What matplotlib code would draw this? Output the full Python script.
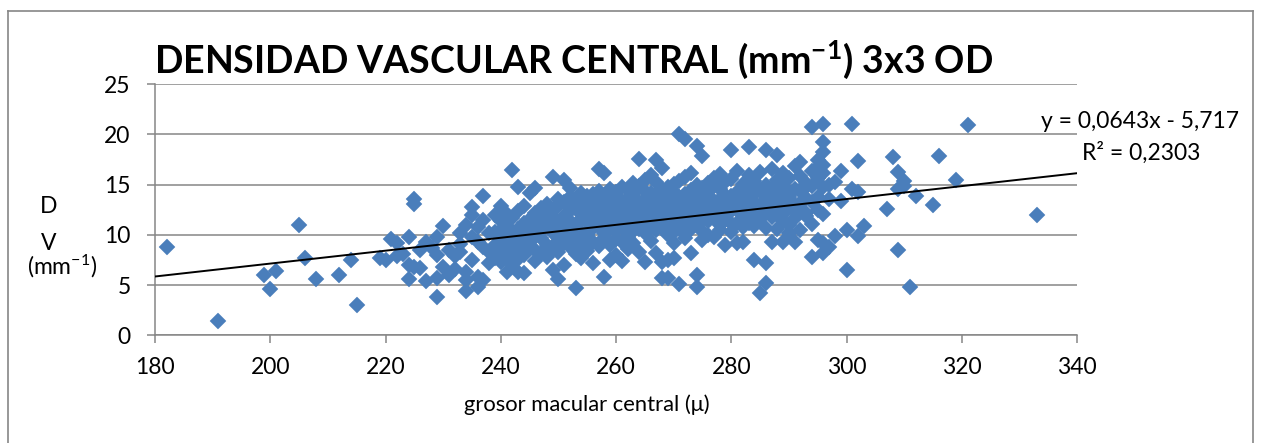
import matplotlib
matplotlib.use("Agg")
import matplotlib.pyplot as plt
from matplotlib.lines import Line2D

plt.rcParams['font.family'] = ['Lato', 'DejaVu Sans']
plt.rcParams['mathtext.fontset'] = 'custom'
plt.rcParams['mathtext.rm'] = 'Lato'
plt.rcParams['mathtext.bf'] = 'Lato:bold'
plt.rcParams['mathtext.it'] = 'Lato:italic'

# ---- data: grosor macular central (x, micras) vs densidad vascular (y, mm-1) ----
puntos_izq = [
    (182, 8.8), (191, 1.4), (199, 6.0), (200, 4.6), (201, 6.4), (205, 11.0),
    (206, 7.7), (208, 5.6), (212, 6.0), (214, 7.5), (215, 3.0), (219, 7.7),
    (220, 7.5), (221, 9.6), (222, 9.2), (222, 7.9), (223, 8.1), (224, 9.8),
    (224, 7.0), (224, 5.6), (225, 13.6), (225, 13.1), (225, 6.8), (226, 6.7),
    (226, 8.5), (227, 9.3), (227, 5.4), (228, 8.7), (229, 3.8), (229, 5.7),
    (229, 9.8), (229, 8.0), (230, 10.9), (230, 6.8), (231, 8.5), (231, 6.0),
    (232, 6.6), (232, 7.9), (233, 10.2), (233, 8.3), (233, 9.1), (234, 6.3),
    (234, 5.5), (234, 4.4), (234, 11.0), (235, 12.8), (235, 12.0), (235, 7.5),
    (235, 9.8), (236, 10.8), (236, 5.8), (236, 4.8), (236, 9.3), (237, 5.5),
    (237, 13.9), (237, 8.8), (237, 11.5), (238, 10.2), (238, 8.3), (238, 7.2),
    (239, 12.0), (239, 10.3), (239, 7.7), (239, 9.0),
]

puntos_centro = [
    (240, [9.2, 10.5, 8.1, 11.4, 7.3, 9.8, 12.9]),
    (241, [8.6, 10.9, 12.1, 7.9, 9.4, 6.3]),
    (242, [9.9, 11.7, 8.4, 10.3, 7.1, 16.5]),
    (243, [10.6, 9.1, 12.4, 8.8, 14.8, 7.6, 6.3]),
    (244, [11.2, 9.5, 10.1, 8.0, 6.2, 12.9]),
    (245, [10.8, 9.3, 11.6, 8.7, 14.2, 9.6]),
    (246, [12.2, 10.0, 8.5, 11.0, 14.7, 7.4]),
    (247, [9.7, 11.3, 12.7, 8.2, 10.4]),
    (248, [10.9, 9.0, 12.0, 11.5, 7.8, 13.1]),
    (249, [11.8, 10.2, 8.6, 12.5, 15.8, 6.5]),
    (250, [10.6, 12.9, 9.4, 11.1, 8.3, 13.6, 5.6]),
    (251, [11.9, 10.1, 13.3, 7.0, 9.2, 15.5]),
    (252, [12.4, 10.8, 9.6, 13.8, 11.4, 8.8, 14.7]),
    (253, [11.0, 12.7, 9.9, 13.2, 8.1, 4.7, 10.5]),
    (254, [12.1, 10.3, 13.6, 11.6, 9.1, 14.2, 7.7]),
    (255, [11.3, 12.8, 10.0, 13.9, 8.4, 12.2, 9.5]),
    (256, [12.6, 10.7, 14.1, 11.8, 9.3, 13.0, 7.2]),
    (257, [10.9, 12.3, 13.5, 16.6, 11.2, 8.9, 14.4]),
    (258, [12.9, 11.5, 10.2, 13.7, 9.7, 16.2, 5.8, 12.0]),
    (259, [11.7, 13.1, 10.6, 14.6, 9.0, 12.4, 7.5]),
    (260, [12.8, 10.4, 13.9, 11.3, 9.6, 14.3, 8.0, 12.1]),
    (261, [11.9, 13.4, 10.8, 12.6, 14.8, 9.3, 7.4]),
    (262, [13.0, 11.4, 12.2, 10.1, 14.5, 9.8, 8.6, 13.7]),
    (263, [12.5, 13.8, 11.1, 10.4, 14.1, 12.9, 9.2, 15.2]),
    (264, [13.3, 11.8, 12.7, 10.6, 14.9, 17.6, 8.3, 12.0]),
    (265, [12.2, 13.6, 11.0, 14.4, 10.2, 7.3, 12.9, 15.5]),
    (266, [13.1, 11.6, 12.5, 14.2, 10.9, 9.4, 13.8, 16.0]),
    (267, [12.7, 14.0, 11.3, 13.4, 10.5, 8.2, 15.3, 17.5]),
    (268, [13.2, 11.9, 14.6, 12.3, 10.7, 16.7, 7.3, 5.7]),
    (269, [12.4, 13.9, 11.1, 14.8, 10.0, 12.8, 7.5, 5.7]),
    (270, [13.6, 12.0, 14.3, 11.4, 10.3, 15.1, 7.7, 9.2]),
    (271, [12.9, 11.7, 13.8, 15.4, 10.8, 20.0, 5.1, 12.3]),
    (272, [14.1, 12.5, 11.2, 13.3, 15.8, 10.1, 19.6, 9.7]),
    (273, [12.8, 14.5, 11.6, 13.9, 16.2, 8.2, 10.6]),
    (274, [13.5, 12.2, 15.0, 11.0, 14.2, 18.9, 6.0, 4.8]),
    (275, [12.6, 14.7, 11.8, 13.1, 17.9, 10.4, 9.5]),
    (276, [13.8, 12.3, 15.2, 11.4, 14.4, 10.0]),
    (277, [12.9, 14.9, 11.7, 13.4, 15.7, 9.8]),
    (278, [13.6, 12.1, 14.6, 11.0, 16.1, 10.5]),
    (279, [12.7, 14.0, 11.5, 15.3, 9.0, 13.2]),
    (280, [13.9, 12.4, 15.6, 18.5, 11.2, 10.3]),
    (281, [12.5, 14.3, 11.2, 13.0, 16.4, 9.2]),
    (282, [13.7, 12.0, 15.1, 10.8, 9.3, 14.6]),
    (283, [12.9, 14.8, 11.2, 16.0, 18.8, 13.4]),
    (284, [13.3, 12.2, 15.4, 7.5, 10.9, 14.1]),
    (285, [12.6, 14.5, 11.6, 16.3, 4.2, 13.0]),
    (286, [13.8, 12.3, 15.0, 18.5, 5.2, 7.2, 10.7]),
    (287, [13.1, 14.7, 11.8, 9.3, 16.6, 12.5]),
    (288, [14.0, 12.7, 15.5, 18.0, 10.6, 13.6]),
    (289, [13.4, 12.1, 14.9, 9.3, 16.2, 11.4]),
    (290, [14.3, 12.9, 15.7, 11.0, 13.8, 10.2]),
    (291, [13.0, 14.6, 9.3, 12.4, 16.9, 11.7]),
    (292, [14.4, 13.2, 15.9, 10.5, 12.6, 17.3]),
    (293, [13.7, 12.2, 15.2, 11.9, 14.8]),
    (294, [14.9, 13.3, 20.7, 16.4, 7.8, 11.1]),
    (295, [15.7, 12.5, 17.5, 9.5, 13.8, 16.8]),
    (296, [21.0, 19.3, 18.3, 17.0, 14.8, 9.2, 8.2, 12.1, 16.2]),
    (297, [8.8, 15.0, 13.6]),
]

puntos_der = [
    (298, 9.9), (298, 15.3), (299, 16.4), (299, 13.4), (300, 10.5), (300, 6.5),
    (301, 21.0), (301, 14.6), (302, 17.4), (302, 14.3), (302, 9.9), (303, 10.9),
    (307, 12.6), (308, 17.8), (309, 16.3), (309, 14.6), (309, 8.5), (310, 15.4),
    (310, 14.9), (311, 4.8), (312, 13.9), (315, 13.0), (316, 17.9), (319, 15.5),
    (321, 20.9), (333, 12.0),
]

# linear trend reported on the chart
pendiente = 0.0643
intercepto = -5.717
r2 = 0.2303

x_ticks = [180, 200, 220, 240, 260, 280, 300, 320, 340]
y_ticks = [0, 5, 10, 15, 20, 25]

# ---- assemble series ----
grosor = [p[0] for p in puntos_izq]
densidad = [p[1] for p in puntos_izq]
for x, ys in puntos_centro:
    grosor += [x] * len(ys)
    densidad += ys
grosor += [p[0] for p in puntos_der]
densidad += [p[1] for p in puntos_der]

W, H = 1262, 443
GRIS = '#868686'
AZUL = '#4a7ebb'


def fx(px):
    return px / W


def fy(py):
    return 1 - py / H


fig = plt.figure(figsize=(W / 100, H / 100), dpi=100)
ax = fig.add_axes([fx(155), fy(335.3), (1077 - 155) / W, (335.3 - 84.3) / H])

ax.plot(grosor, densidad, ls='none', marker='D', ms=7.8,
        mfc=AZUL, mec=AZUL, mew=0.3, zorder=3, clip_on=False)

xt = [x_ticks[0], x_ticks[-1]]
ax.plot(xt, [pendiente * v + intercepto for v in xt], color='black', lw=1.4, zorder=4)

ax.set_xlim(x_ticks[0], x_ticks[-1])
ax.set_ylim(y_ticks[0], y_ticks[-1])
ax.set_xticks(x_ticks)
ax.set_yticks(y_ticks)
ax.yaxis.grid(True, color=GRIS, lw=1.1)
ax.set_axisbelow(True)
for s in ('top', 'right'):
    ax.spines[s].set_visible(False)
for s in ('left', 'bottom'):
    ax.spines[s].set_color(GRIS)
    ax.spines[s].set_linewidth(1.1)
ax.tick_params(axis='both', direction='out', length=5.5, width=1.1, color=GRIS,
               labelsize=16.5, labelcolor='black')
ax.tick_params(axis='y', pad=12)
ax.tick_params(axis='x', pad=10)

# title
fig.text(fx(574), fy(60), r'DENSIDAD VASCULAR CENTRAL (mm$^{\mathbf{-1}}$) 3x3 OD',
         ha='center', va='center', fontsize=27, fontweight='bold')

# axis labels
fig.text(fx(587), fy(405), 'grosor macular central (\u03bc)', ha='center', va='center',
         fontsize=15.8)
fig.text(fx(49), fy(207), 'D', ha='center', va='center', fontsize=16.5)
fig.text(fx(49), fy(243), 'V', ha='center', va='center', fontsize=16.5)
fig.text(fx(62), fy(266), r'(mm$^{-1}$)', ha='center', va='center', fontsize=16.5)

# trend equation
fig.text(fx(1140), fy(122), f'y = {pendiente:.4f}x - {abs(intercepto):.3f}'.replace('.', ','),
         ha='center', va='center', fontsize=16.5)
fig.text(fx(1141), fy(153), f'R\u00b2 = {r2:.4f}'.replace('.', ','),
         ha='center', va='center', fontsize=16.5)

# chart area frame
for (x0, y0, x1, y1) in [(7.5, 10.5, 1253, 10.5), (7.5, 10.5, 7.5, 450), (1253, 10.5, 1253, 450)]:
    fig.add_artist(Line2D([fx(x0), fx(x1)], [fy(y0), fy(y1)], color=GRIS, lw=1.2))

fig.savefig('out.png', dpi=100)
